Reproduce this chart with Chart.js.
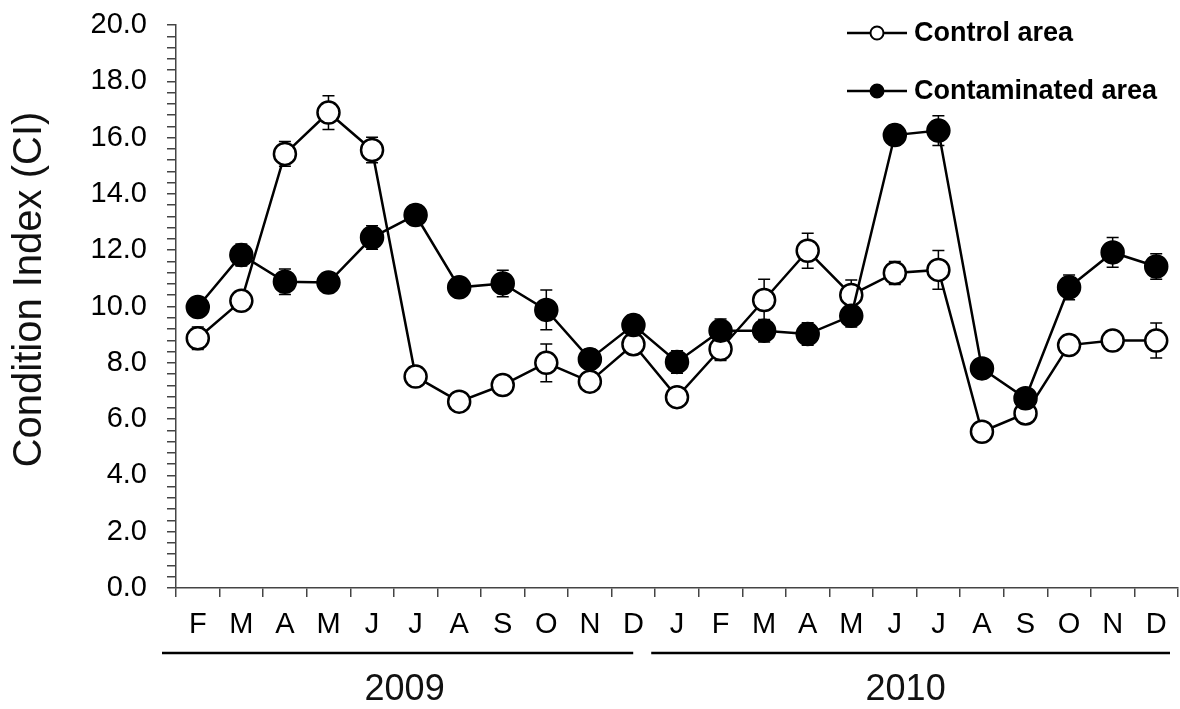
<!DOCTYPE html>
<html>
<head>
<meta charset="utf-8">
<script src="https://cdn.jsdelivr.net/npm/chart.js@4/dist/chart.umd.min.js"></script>
<style>
  html, body { margin: 0; padding: 0; background: #fff; }
</style>
</head>
<body>
<canvas id="ci" width="1180" height="709"></canvas>
<script>
// months, Feb 2009 .. Dec 2010
const months = ["F","M","A","M","J","J","A","S","O","N","D","J","F","M","A","M","J","J","A","S","O","N","D"];
const years = ["2009", "2010"];
const yearStart = [0, 11]; // first month index of each year
const seriesNames = ["Control area", "Contaminated area"];
const yTitle = "Condition Index (CI)";

// condition index, mean and error
const controlCI  = [8.87, 10.2, 15.42, 16.89, 15.56, 7.51, 6.62, 7.21, 8.0, 7.33, 8.66, 6.78, 8.49, 10.23, 11.98, 10.41, 11.19, 11.3, 5.55, 6.2, 8.63, 8.79, 8.79];
const controlErr = [0.4, 0.3, 0.44, 0.6, 0.45, 0.3, 0.25, 0.3, 0.67, 0.3, 0.35, 0.3, 0.41, 0.74, 0.62, 0.53, 0.41, 0.69, 0.3, 0.3, 0.35, 0.35, 0.62];
const contamCI   = [9.98, 11.83, 10.88, 10.85, 12.45, 13.25, 10.68, 10.82, 9.88, 8.13, 9.34, 8.03, 9.14, 9.14, 9.02, 9.67, 16.09, 16.25, 7.8, 6.74, 10.68, 11.92, 11.42];
const contamErr  = [0.3, 0.39, 0.45, 0.35, 0.42, 0.36, 0.3, 0.47, 0.71, 0.35, 0.36, 0.4, 0.42, 0.4, 0.4, 0.4, 0.36, 0.53, 0.3, 0.3, 0.44, 0.53, 0.45];

const FONT = "'Liberation Sans', Arial, sans-serif";
const AXIS = "#444";
const markerFill = ["#fff", "#000"];

//error bars go under the lines and markers
const errorBars = {
  id: "errorBars",
  beforeDatasetsDraw(chart) {
    const ctx = chart.ctx;
    const y = chart.scales.y;
    chart.data.datasets.forEach((ds, di) => {
      const meta = chart.getDatasetMeta(di);
      ctx.save();
      ctx.strokeStyle = "#000";
      ctx.lineWidth = 1.5;
      meta.data.forEach((pt, i) => {
        const top = y.getPixelForValue(ds.data[i] + ds.errors[i]);
        const bot = y.getPixelForValue(ds.data[i] - ds.errors[i]);
        ctx.beginPath();
        ctx.moveTo(pt.x, top); ctx.lineTo(pt.x, bot);
        ctx.moveTo(pt.x - 6, top); ctx.lineTo(pt.x + 6, top);
        ctx.moveTo(pt.x - 6, bot); ctx.lineTo(pt.x + 6, bot);
        ctx.stroke();
      });
      ctx.restore();
    });
  }
};

//y title, year brackets and the legend
const decorations = {
  id: "decorations",
  afterDraw(chart) {
    const ctx = chart.ctx;
    const area = chart.chartArea;
    const x = chart.scales.x;
    ctx.save();

    // y axis title
    ctx.translate(30, (area.top + area.bottom) / 2 - 17);
    ctx.rotate(-Math.PI / 2);
    ctx.fillStyle = "#111";
    ctx.font = "40px " + FONT;
    ctx.textAlign = "center";
    ctx.textBaseline = "middle";
    ctx.fillText(yTitle, 0, 0);
    ctx.setTransform(1, 0, 0, 1, 0, 0);

    // years under the month labels
    const step = x.getPixelForValue(1) - x.getPixelForValue(0);
    years.forEach((yr, k) => {
      const first = yearStart[k];
      const last = k + 1 < yearStart.length ? yearStart[k + 1] : months.length;
      const left = x.getPixelForValue(first) - step / 2;
      const right = x.getPixelForValue(last - 1) + step / 2;
      const l1 = k === 0 ? left - 14 : left - 4;
      const r1 = k === 0 ? right - 22 : right - 8;
      ctx.strokeStyle = "#000";
      ctx.lineWidth = 2.5;
      ctx.beginPath();
      ctx.moveTo(l1, area.bottom + 65);
      ctx.lineTo(r1, area.bottom + 65);
      ctx.stroke();
      ctx.fillStyle = "#111";
      ctx.font = "36px " + FONT;
      ctx.textAlign = "center";
      ctx.textBaseline = "middle";
      ctx.fillText(yr, (left + right) / 2 - 11, area.bottom + 102);
    });

    // legend
    const lx = area.right - 331;
    seriesNames.forEach((name, i) => {
      const ly = 33 + i * 58;
      ctx.strokeStyle = "#000";
      ctx.lineWidth = 2.5;
      ctx.beginPath();
      ctx.moveTo(lx, ly);
      ctx.lineTo(lx + 60, ly);
      ctx.stroke();
      ctx.beginPath();
      ctx.arc(lx + 30, ly, 6.5, 0, Math.PI * 2);
      ctx.fillStyle = markerFill[i];
      ctx.fill();
      ctx.lineWidth = 2;
      ctx.stroke();
      ctx.fillStyle = "#000";
      ctx.font = "bold 27px " + FONT;
      ctx.textAlign = "left";
      ctx.textBaseline = "middle";
      ctx.fillText(name, lx + 67, ly + 1);
    });
    ctx.restore();
  }
};

const tickFont = { family: FONT, size: 29 };

new Chart(document.getElementById("ci"), {
  type: "line",
  plugins: [errorBars, decorations],
  data: {
    labels: months,
    datasets: [
      {
        label: seriesNames[0],
        data: controlCI,
        errors: controlErr,
        order: 1,
        borderColor: "#000",
        borderWidth: 2.5,
        pointRadius: 11,
        pointBorderWidth: 2.5,
        pointBackgroundColor: markerFill[0],
        pointBorderColor: "#000",
        tension: 0,
      },
      {
        label: seriesNames[1],
        data: contamCI,
        errors: contamErr,
        order: 0,
        borderColor: "#000",
        borderWidth: 2.5,
        pointRadius: 11,
        pointBorderWidth: 2.5,
        pointBackgroundColor: markerFill[1],
        pointBorderColor: "#000",
        tension: 0,
      },
    ],
  },
  options: {
    responsive: false,
    animation: false,
    layout: { autoPadding: false, padding: { top: 25, right: 2, left: 0, bottom: 0 } },
    plugins: {
      legend: { display: false },
      tooltip: { enabled: false },
    },
    scales: {
      x: {
        type: "category",
        offset: true,
        grid: { offset: true, drawOnChartArea: false, tickLength: 9, color: AXIS, lineWidth: 1.5 },
        border: { color: AXIS, width: 1.5 },
        ticks: { color: "#000", font: tickFont, padding: 11, autoSkip: false, maxRotation: 0 },
        afterFit: (s) => { s.height = 121; s.paddingLeft = 0; s.paddingRight = 0; },
      },
      y: {
        min: 0,
        max: 20,
        grid: { drawOnChartArea: false, tickLength: 9, color: AXIS, lineWidth: 1.5 },
        border: { color: AXIS, width: 1.5 },
        ticks: {
          stepSize: 0.4,
          maxTicksLimit: 100,
          autoSkip: false,
          padding: 20,
          color: "#000",
          font: tickFont,
          //only label every 2.0
          callback: (v) => (Math.abs(v / 2 - Math.round(v / 2)) < 1e-6 ? v.toFixed(1) : ""),
        },
        afterFit: (s) => { s.width = 176; s.paddingTop = 0; s.paddingBottom = 0; },
      },
    },
  },
});
</script>
</body>
</html>
